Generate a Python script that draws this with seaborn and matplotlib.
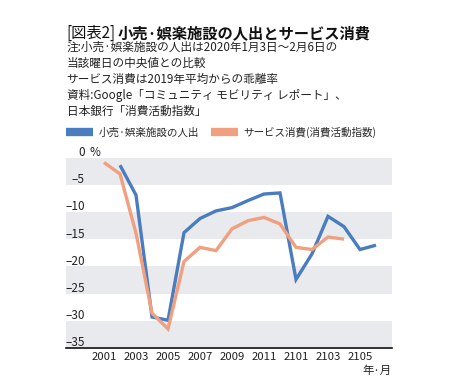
import numpy as np
import pandas as pd
import matplotlib
matplotlib.use("Agg")
import matplotlib.pyplot as plt
import matplotlib.transforms as mtransforms
from matplotlib.lines import Line2D
import seaborn as sns

# 年・月 (2020/01 .. 2021/06)
months = ["2001", "2002", "2003", "2004", "2005", "2006", "2007", "2008", "2009",
          "2010", "2011", "2012", "2101", "2102", "2103", "2104", "2105", "2106"]
# 小売・娯楽施設の人出 (%)
mobility = [np.nan, -1.4, -6.9, -29.3, -29.9, -13.8, -11.2, -9.8, -9.2,
            -7.9, -6.7, -6.5, -22.4, -17.7, -10.8, -12.7, -16.9, -16.1]
# サービス消費 (消費活動指数, %)
service = [-0.9, -3.0, -13.9, -28.6, -31.5, -19.1, -16.5, -17.1, -13.1,
           -11.6, -11.0, -12.2, -16.5, -16.9, -14.6, -15.0, np.nan, np.nan]
tick_months = ["2001", "2003", "2005", "2007", "2009", "2011", "2101", "2103", "2105"]
y_ticks = [0, -5, -10, -15, -20, -25, -30, -35]

name_a = "小売·娯楽施設の人出"
name_b = "サービス消費(消費活動指数)"
colors = {name_a: "#4a7dbf", name_b: "#f1a07f"}

sns.set_style("white")
plt.rcParams["font.family"] = ["Noto Sans CJK JP", "DejaVu Sans"]

df = pd.DataFrame({"pos": list(range(len(months))) * 2,
                   "value": mobility + service,
                   "series": [name_a] * len(months) + [name_b] * len(months)})
df = df.dropna()

fig = plt.figure(figsize=(4.6, 3.91), dpi=100)
ax = fig.add_axes([0.1435, 0.110, 0.708, 0.487])

# alternating gray bands
for i in range(0, len(y_ticks) - 1, 2):
    ax.axhspan(y_ticks[i + 1], y_ticks[i], color="#e8eaed", lw=0, zorder=0)

sns.lineplot(data=df, x="pos", y="value", hue="series", palette=colors,
             linewidth=2.4, ax=ax, legend=False, zorder=3,
             hue_order=[name_a, name_b])
for line in ax.get_lines():
    line.set_solid_joinstyle("miter")
    line.set_solid_capstyle("butt")

ax.set_xlim(-2.375, 17.98)
ax.set_ylim(-35, 0)
ax.set_xlabel("")
ax.set_ylabel("")

ax.set_xticks([months.index(m) for m in tick_months])
ax.set_xticklabels(tick_months, fontsize=8.2, color="#222222")
ax.tick_params(axis="x", length=0, pad=3)
ax.set_yticks([])

for s in ["top", "right", "left"]:
    ax.spines[s].set_visible(False)
ax.spines["bottom"].set_color("#111111")
ax.spines["bottom"].set_linewidth(1.2)
ax.spines["bottom"].set_zorder(5)

trans = mtransforms.blended_transform_factory(ax.transAxes, ax.transData)
for v in y_ticks:
    lab = "0" if v == 0 else "\u2013" + str(abs(v))
    ax.text(0.058, v + 0.95, lab, transform=trans, ha="right", va="center",
            fontsize=8.5, color="#222222")
ax.text(0.072, 0.95, "%", transform=trans, ha="left", va="center",
        fontsize=8.5, color="#222222")

ax.text(1.0, -0.09, "年·月", transform=ax.transAxes, ha="right", va="top",
        fontsize=8.2, color="#222222")

# legend
handles = [Line2D([0], [0], color=colors[name_a], lw=6, solid_capstyle="butt"),
           Line2D([0], [0], color=colors[name_b], lw=6, solid_capstyle="butt")]
fig.legend(handles, [name_a, name_b], loc="center left",
           bbox_to_anchor=(0.1435, 0.662), ncol=2, frameon=False,
           fontsize=7.6, handlelength=2.55, handletextpad=0.55,
           columnspacing=1.1, borderpad=0, borderaxespad=0)

# title and notes
t1 = fig.text(0.145, 0.915, "[図表2]", fontsize=11, ha="left", va="center",
              color="#111111")
fig.canvas.draw()
bb = t1.get_window_extent()
fig.text(bb.x1 / fig.bbox.width + 0.003, 0.915, "小売·娯楽施設の人出とサービス消費",
         fontsize=11, fontweight="bold", ha="left", va="center", color="#111111")

notes = ["注:小売·娯楽施設の人出は2020年1月3日～2月6日の",
         "当該曜日の中央値との比較",
         "サービス消費は2019年平均からの乖離率",
         "資料:Google「コミュニティ モビリティ レポート」、",
         "日本銀行「消費活動指数」"]
for i, line in enumerate(notes):
    fig.text(0.145, 0.878 - i * 0.041, line, fontsize=8.4, ha="left",
             va="center", color="#222222")

fig.savefig("out.png", dpi=100)
